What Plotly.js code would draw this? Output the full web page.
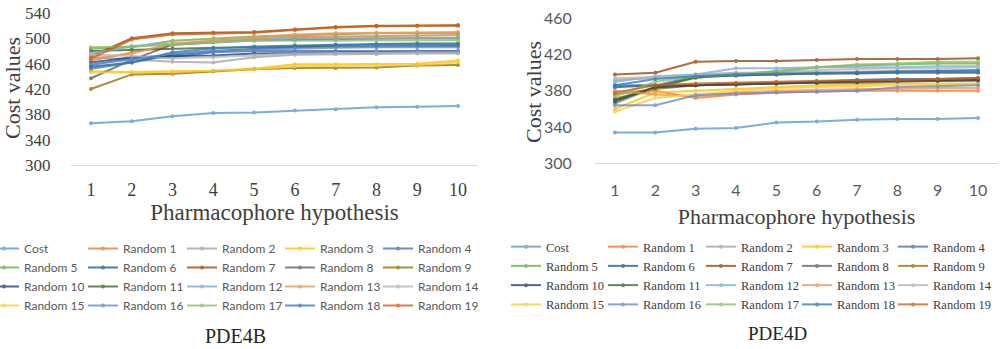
<!DOCTYPE html>
<html>
<head>
<meta charset="utf-8">
<script src="https://cdn.plot.ly/plotly-3.0.1.min.js"></script>
<style>
html,body{margin:0;padding:0;background:#ffffff;overflow:hidden;}
#wrap{width:1000px;height:349px;overflow:hidden;position:relative;}
#chart{width:1040px;height:349px;position:absolute;left:-40px;top:0;}
</style>
</head>
<body>
<div id="wrap"><div id="chart"></div></div>
<script>
// ---------- categories ----------
const hypotheses = [1, 2, 3, 4, 5, 6, 7, 8, 9, 10];
const seriesNames = ['Cost', 'Random 1', 'Random 2', 'Random 3', 'Random 4', 'Random 5', 'Random 6',
  'Random 7', 'Random 8', 'Random 9', 'Random 10', 'Random 11', 'Random 12', 'Random 13',
  'Random 14', 'Random 15', 'Random 16', 'Random 17', 'Random 18', 'Random 19'];
const seriesColors = ['#5B9BD5', '#ED7D31', '#A5A5A5', '#FFC000', '#4472C4', '#70AD47', '#255E91',
  '#9E480E', '#636363', '#997300', '#264478', '#43682B', '#7CAFDD', '#F1975A', '#B7B7B7',
  '#FFCD33', '#698ED0', '#8CC168', '#327DC2', '#D26012'];
const yTicksB = [300, 340, 380, 420, 460, 500, 540];
const yTicksD = [300, 340, 380, 420, 460];

// ---------- PDE4B values ----------
const pde4bCost = [366, 369, 377, 382, 383, 386, 388, 391, 392, 393];
const pde4bR1  = [465, 478, 490, 496, 500, 502, 503, 504, 505, 505];
const pde4bR2  = [470, 466, 463, 462, 470, 474, 475, 475, 476, 476];
const pde4bR3  = [448, 447, 448, 449, 452, 459, 459, 459, 460, 465];
const pde4bR4  = [458, 468, 470, 478, 480, 480, 480, 480, 480, 480];
const pde4bR5  = [484, 486, 496, 500, 503, 505, 507, 508, 508, 508];
const pde4bR6  = [455, 462, 474, 480, 483, 486, 487, 487, 488, 488];
const pde4bR7  = [472, 500, 508, 509, 510, 514, 518, 520, 520, 520];
const pde4bR8  = [437, 466, 490, 494, 497, 498, 499, 500, 500, 500];
const pde4bR9  = [420, 443, 444, 448, 451, 453, 453, 454, 457, 458];
const pde4bR10 = [462, 470, 472, 473, 476, 477, 478, 478, 479, 479];
const pde4bR11 = [480, 482, 484, 485, 486, 488, 490, 491, 492, 492];
const pde4bR12 = [476, 488, 492, 495, 498, 500, 500, 500, 500, 500];
const pde4bR13 = [468, 476, 492, 497, 502, 506, 508, 509, 510, 510];
const pde4bR14 = [474, 472, 468, 470, 473, 476, 477, 478, 478, 478];
const pde4bR15 = [446, 446, 447, 449, 451, 456, 457, 457, 458, 462];
const pde4bR16 = [460, 466, 476, 480, 482, 484, 485, 486, 486, 486];
const pde4bR17 = [486, 487, 490, 494, 496, 496, 497, 497, 497, 497];
const pde4bR18 = [452, 462, 478, 484, 487, 489, 490, 490, 490, 490];
const pde4bR19 = [468, 498, 506, 508, 509, 513, 517, 519, 520, 521];

// ---------- PDE4D values ----------
const pde4dCost = [334, 334, 338, 339, 345, 346, 348, 349, 349, 350];
const pde4dR1  = [372, 380, 372, 376, 378, 379, 380, 380, 380, 380];
const pde4dR2  = [392, 394, 398, 400, 400, 401, 401, 402, 402, 402];
const pde4dR3  = [360, 378, 380, 382, 384, 386, 387, 388, 388, 388];
const pde4dR4  = [386, 386, 396, 397, 398, 399, 400, 401, 402, 403];
const pde4dR5  = [366, 384, 394, 398, 402, 406, 408, 409, 410, 410];
const pde4dR6  = [384, 386, 386, 387, 388, 390, 392, 393, 393, 394];
const pde4dR7  = [398, 400, 412, 413, 413, 414, 415, 415, 415, 416];
const pde4dR8  = [370, 384, 386, 387, 388, 389, 389, 390, 391, 391];
const pde4dR9  = [376, 382, 386, 388, 389, 390, 391, 392, 392, 393];
const pde4dR10 = [368, 384, 386, 387, 388, 389, 390, 391, 391, 392];
const pde4dR11 = [370, 384, 395, 397, 398, 399, 399, 400, 400, 400];
const pde4dR12 = [390, 396, 398, 405, 405, 406, 406, 406, 407, 407];
const pde4dR13 = [380, 376, 374, 378, 380, 381, 382, 382, 383, 383];
const pde4dR14 = [394, 395, 397, 399, 400, 403, 404, 405, 405, 406];
const pde4dR15 = [357, 372, 376, 380, 383, 384, 385, 386, 386, 387];
const pde4dR16 = [364, 364, 375, 377, 378, 379, 380, 384, 385, 386];
const pde4dR17 = [374, 390, 396, 398, 400, 406, 409, 410, 412, 412];
const pde4dR18 = [386, 393, 396, 398, 399, 399, 400, 401, 401, 401];
const pde4dR19 = [378, 386, 388, 389, 390, 391, 392, 392, 393, 394];

const pde4bSeries = [pde4bCost, pde4bR1, pde4bR2, pde4bR3, pde4bR4, pde4bR5, pde4bR6, pde4bR7,
  pde4bR8, pde4bR9, pde4bR10, pde4bR11, pde4bR12, pde4bR13, pde4bR14, pde4bR15, pde4bR16,
  pde4bR17, pde4bR18, pde4bR19];
const pde4dSeries = [pde4dCost, pde4dR1, pde4dR2, pde4dR3, pde4dR4, pde4dR5, pde4dR6, pde4dR7,
  pde4dR8, pde4dR9, pde4dR10, pde4dR11, pde4dR12, pde4dR13, pde4dR14, pde4dR15, pde4dR16,
  pde4dR17, pde4dR18, pde4dR19];

// ---------- build ----------
// the figure is 40px wider than the window and shifted left, so the first legend column can sit at the window edge
const SHIFT = 40, W = 1000 + SHIFT, H = 349;
const px = v => (v + SHIFT) / W;
const py = v => (H - v) / H;

const traces = [];
function addTraces(series, xa, ya, legendOffset) {
  series.forEach((vals, i) => {
    const n = (i % 5) + legendOffset;
    traces.push({
      type: 'scatter', mode: 'lines+markers',
      x: hypotheses, y: vals, name: seriesNames[i],
      xaxis: xa, yaxis: ya, legend: n === 1 ? 'legend' : 'legend' + n,
      line: {color: seriesColors[i], width: 2},
      marker: {color: seriesColors[i], size: 4},
      opacity: 0.8
    });
  });
}
addTraces(pde4bSeries, 'x', 'y', 1);
addTraces(pde4dSeries, 'x2', 'y2', 6);

const serif = 'Liberation Serif';
const sans = 'Lato';

const layout = {
  width: W, height: H,
  margin: {l: 0, r: 0, t: 0, b: 0},
  paper_bgcolor: '#ffffff', plot_bgcolor: '#ffffff',
  showlegend: true,
  xaxis: {
    domain: [px(70.6), px(478.4)], range: [0.5, 10.5],
    tickvals: hypotheses, ticks: '', showgrid: false, zeroline: false,
    showline: true, linecolor: '#d9d9d9', linewidth: 1,
    tickfont: {family: serif, size: 18, color: '#404040'},
    ticklabelstandoff: 8,
    title: {text: 'Pharmacophore hypothesis', font: {family: serif, size: 23, color: '#404040'}, standoff: 3},
    fixedrange: true
  },
  yaxis: {
    domain: [py(165), py(13)], range: [300, 540],
    tickvals: yTicksB, ticks: '', showgrid: false, zeroline: false, showline: false,
    tickfont: {family: serif, size: 17, color: '#404040'},
    ticklabelstandoff: 19,
    fixedrange: true
  },
  xaxis2: {
    domain: [px(594.8), px(998.2)], range: [0.5, 10.5], anchor: 'y2',
    tickvals: hypotheses, ticks: '', showgrid: false, zeroline: false,
    showline: true, linecolor: '#d9d9d9', linewidth: 1,
    tickfont: {family: sans, size: 16, color: '#595959'},
    ticklabelstandoff: 12,
    title: {text: 'Pharmacophore hypothesis', font: {family: serif, size: 22, color: '#404040'}, standoff: 11},
    fixedrange: true
  },
  yaxis2: {
    domain: [py(163.3), py(18.3)], range: [300, 460], anchor: 'x2',
    tickvals: yTicksD, ticks: '', showgrid: false, zeroline: false, showline: false,
    tickfont: {family: sans, size: 16, color: '#595959'},
    ticklabelstandoff: 22,
    fixedrange: true
  },
  annotations: [
    {text: 'Cost values', xref: 'paper', yref: 'paper', x: px(12), y: py(88), textangle: -90,
     xanchor: 'center', yanchor: 'middle', showarrow: false,
     font: {family: serif, size: 22, color: '#404040'}},
    {text: 'Cost values', xref: 'paper', yref: 'paper', x: px(533), y: py(92), textangle: -90,
     xanchor: 'center', yanchor: 'middle', showarrow: false,
     font: {family: serif, size: 22, color: '#404040'}},
    {text: 'PDE4B', xref: 'paper', yref: 'paper', x: px(235), y: py(336), xanchor: 'center', yanchor: 'middle',
     showarrow: false, font: {family: serif, size: 20, color: '#262626'}},
    {text: 'PDE4D', xref: 'paper', yref: 'paper', x: px(777), y: py(333), xanchor: 'center', yanchor: 'middle',
     showarrow: false, font: {family: serif, size: 19, color: '#262626'}}
  ]
};

const leftTextX = [24, 123, 222, 320, 418];
const rightTextX = [546, 643, 741, 837, 933];
function legendObj(textX, topY, font) {
  return {
    orientation: 'v', x: px(textX - 40), xanchor: 'left', y: py(topY), yanchor: 'top',
    bgcolor: 'rgba(0,0,0,0)', borderwidth: 0, font: font, tracegroupgap: 0, itemwidth: 30
  };
}
const legFontB = {family: sans, size: 12, color: '#595959'};
const legFontD = {family: serif, size: 12.5, color: '#404040'};
for (let c = 0; c < 5; c++) {
  const idB = c === 0 ? 'legend' : 'legend' + (c + 1);
  layout[idB] = legendObj(leftTextX[c], 234, legFontB);
  layout['legend' + (c + 6)] = legendObj(rightTextX[c], 232, legFontD);
}

Plotly.newPlot('chart', traces, layout, {staticPlot: true, displayModeBar: false});
</script>
</body>
</html>
